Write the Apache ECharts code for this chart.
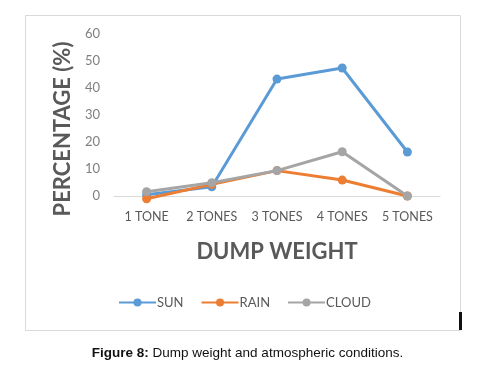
<!DOCTYPE html>
<html>
<head>
<meta charset="utf-8">
<script src="https://cdn.jsdelivr.net/npm/echarts@6/dist/echarts.min.js"></script>
<style>
  html, body { margin: 0; padding: 0; background: #fff; }
  #main { width: 495px; height: 372px; }
</style>
</head>
<body>
<div id="main"></div>
<script>
  var categories = ["1 TONE", "2 TONES", "3 TONES", "4 TONES", "5 TONES"]
  var sunValues = [0.5, 3.4, 43.3, 47.4, 16.3]
  var rainValues = [-1, 4.3, 9.4, 5.9, 0]
  var cloudValues = [1.6, 4.9, 9.4, 16.4, 0]

  var chart = echarts.init(document.getElementById("main"))

  function lineSeries(name, data, color, z) {
    return {
      name: name,
      type: "line",
      data: data,
      z: z,
      clip: false,
      symbol: "circle",
      symbolSize: 9,
      lineStyle: { width: 3, color: color },
      itemStyle: { color: color }
    }
  }

  var option = {
    animation: false,
    textStyle: { fontFamily: "Lato" },
    grid: { left: 114, right: 55, top: 34, bottom: 176 },
    legend: {
      left: 113,
      top: 291,
      itemWidth: 37,
      itemHeight: 10,
      itemGap: 17,
      textStyle: { color: "#595959", fontSize: 13, fontFamily: "Lato", padding: [0, 0, 0, -4] },
      data: ["SUN", "RAIN", "CLOUD"]
    },
    xAxis: {
      type: "category",
      data: categories,
      name: "DUMP WEIGHT",
      nameLocation: "middle",
      nameGap: 45,
      nameTextStyle: { color: "#595959", fontSize: 22, fontWeight: "bold", fontFamily: "Lato" },
      axisLine: { lineStyle: { color: "#d9d9d9", width: 1 } },
      axisTick: { show: false },
      axisLabel: { color: "#595959", fontSize: 12.5, margin: 14, interval: 0 }
    },
    yAxis: {
      type: "value",
      min: 0,
      max: 60,
      interval: 10,
      name: "PERCENTAGE (%)",
      nameLocation: "middle",
      nameGap: 40,
      nameTextStyle: {
        color: "#595959", fontSize: 22, fontWeight: "bold", fontFamily: "Lato",
        padding: [0, 28, 0, 0]
      },
      axisLine: { show: false },
      axisTick: { show: false },
      splitLine: { show: false },
      axisLabel: { color: "#7f7f7f", fontSize: 13, margin: 14 }
    },
    series: [
      lineSeries("SUN", sunValues, "#5b9bd5", 2),
      lineSeries("RAIN", rainValues, "#ed7d31", 3),
      lineSeries("CLOUD", cloudValues, "#a5a5a5", 4)
    ],
    graphic: [
      {
        type: "rect",
        shape: { x: 25.5, y: 15.5, width: 435, height: 315 },
        style: { fill: null, stroke: "#d9d9d9", lineWidth: 1 },
        z: -1
      },
      {
        type: "rect",
        shape: { x: 459, y: 312, width: 3, height: 18 },
        style: { fill: "#111" }
      },
      {
        type: "text",
        left: "center",
        top: 346,
        style: {
          text: "{b|Figure 8:} Dump weight and atmospheric conditions.",
          fontFamily: "Liberation Sans",
          fontSize: 13.5,
          fill: "#111",
          rich: {
            b: { fontWeight: "bold", fontFamily: "Liberation Sans", fontSize: 13.5, fill: "#111" }
          }
        }
      }
    ]
  }

  chart.setOption(option)
</script>
</body>
</html>
